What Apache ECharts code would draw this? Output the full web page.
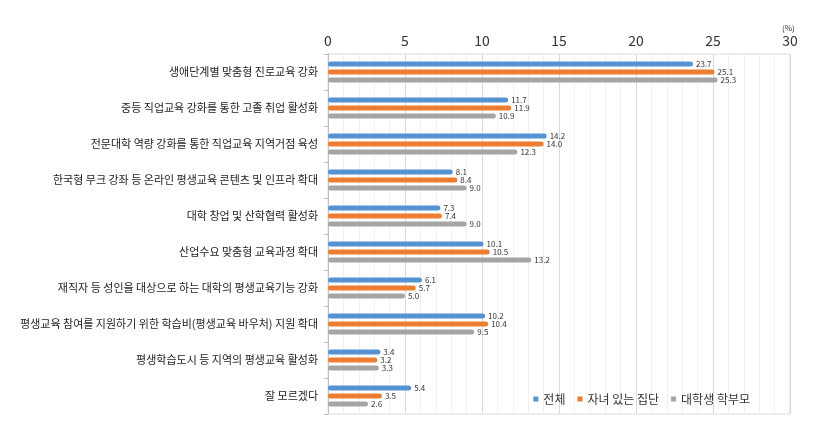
<!DOCTYPE html>
<html><head><meta charset="utf-8">
<script src="https://cdn.jsdelivr.net/npm/echarts@6/dist/echarts.min.js"></script>
<style>html,body{margin:0;padding:0;background:#fff}#c{width:817px;height:448px}</style>
</head><body><div id="c"></div>
<script>
const categories = [
  '생애단계별 맞춤형 진로교육 강화',
  '중등 직업교육 강화를 통한 고졸 취업 활성화',
  '전문대학 역량 강화를 통한 직업교육 지역거점 육성',
  '한국형 무크 강좌 등 온라인 평생교육 콘텐츠 및 인프라 확대',
  '대학 창업 및 산학협력 활성화',
  '산업수요 맞춤형 교육과정 확대',
  '재직자 등 성인을 대상으로 하는 대학의 평생교육기능 강화',
  '평생교육 참여를 지원하기 위한 학습비(평생교육 바우처) 지원 확대',
  '평생학습도시 등 지역의 평생교육 활성화',
  '잘 모르겠다'
];
const seriesNames = ['전체', '자녀 있는 집단', '대학생 학부모'];
const totalValues = [23.7, 11.7, 14.2, 8.1, 7.3, 10.1, 6.1, 10.2, 3.4, 5.4];
const parentValues = [25.1, 11.9, 14.0, 8.4, 7.4, 10.5, 5.7, 10.4, 3.2, 3.5];
const collegeParentValues = [25.3, 10.9, 12.3, 9.0, 9.0, 13.2, 5.0, 9.5, 3.3, 2.6];
const xTicks = [0, 5, 10, 15, 20, 25, 30];
const unitLabel = '(%)';

const colors = ['#5592d2', '#ed7d31', '#a5a5a5'];
const font = '"Noto Sans CJK KR", "Noto Sans", sans-serif';
const chart = echarts.init(document.getElementById('c'), null, {renderer: 'canvas'});
const mk = (name, data, i) => ({
  name, type: 'bar', data, barWidth: 5, barGap: '60%',
  itemStyle: {color: colors[i], borderRadius: 2.5},
  label: {show: true, position: 'right', distance: 3, fontSize: 8, color: '#333', fontFamily: font,
    formatter: p => p.value.toFixed(1)}
});
chart.setOption({
  animation: false,
  textStyle: {fontFamily: font},
  grid: {left: 328, right: 27, top: 54, bottom: 34, show: true, borderColor: '#dcdcdc', borderWidth: 1},
  graphic: [{type: 'text', left: 782, top: 24, style: {text: unitLabel, fontSize: 8, fill: '#333', fontFamily: font}}],
  legend: {
    data: seriesNames, right: 62, top: 388, itemWidth: 5, itemHeight: 5, itemGap: 12,
    icon: 'rect', textStyle: {fontSize: 12, color: '#333', fontFamily: font}
  },
  xAxis: {
    type: 'value', position: 'top', min: xTicks[0], max: xTicks[xTicks.length - 1], interval: 5,
    axisLine: {show: false}, axisTick: {show: false},
    axisLabel: {fontSize: 14, color: '#333', margin: 6, fontFamily: font},
    splitLine: {show: true, lineStyle: {color: '#d9d9d9', width: 1}},
    minorTick: {show: false, splitNumber: 5},
    minorSplitLine: {show: true, lineStyle: {color: '#f0f0f0', width: 1}}
  },
  yAxis: {
    type: 'category', data: categories, inverse: true,
    axisLine: {show: true, lineStyle: {color: '#bfbfbf'}},
    axisTick: {show: true, length: 4, inside: false, lineStyle: {color: '#bfbfbf'}},
    axisLabel: {fontSize: 11, color: '#222', margin: 10, fontFamily: font},
    splitLine: {show: false}
  },
  series: [mk(seriesNames[0], totalValues, 0), mk(seriesNames[1], parentValues, 1), mk(seriesNames[2], collegeParentValues, 2)]
});
</script></body></html>
